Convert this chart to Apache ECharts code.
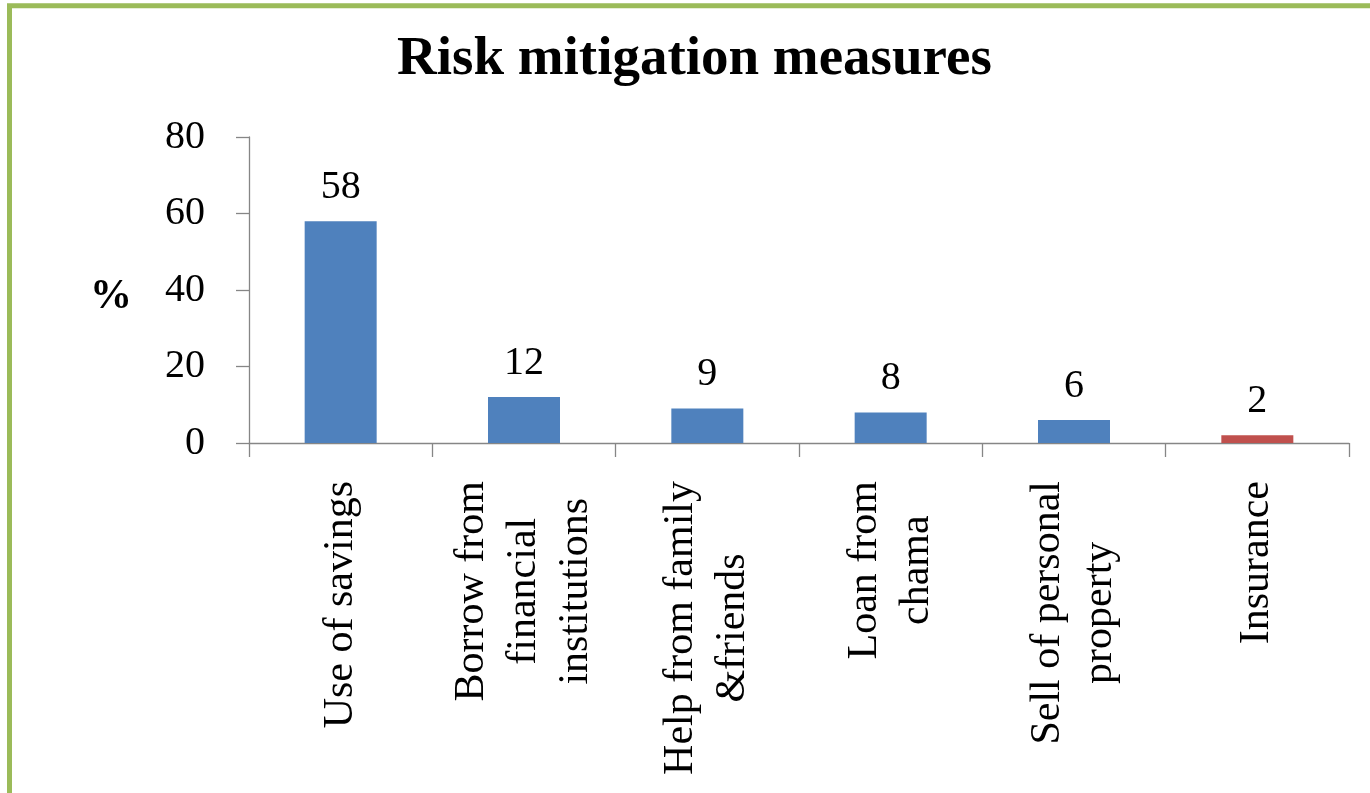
<!DOCTYPE html>
<html>
<head>
<meta charset="utf-8">
<title>Risk mitigation measures</title>
<script src="https://cdn.jsdelivr.net/npm/echarts@6/dist/echarts.min.js"></script>
<style>
  html, body { margin: 0; padding: 0; background: #ffffff; }
  #chart { width: 1370px; height: 793px; }
</style>
</head>
<body>
<div id="chart"></div>
<script>
// Share of respondents (%) using each risk mitigation measure
const categories = [
  'Use of savings',
  'Borrow from\nfinancial\ninstitutions',
  'Help from family\n&friends',
  'Loan from\nchama',
  'Sell of personal\nproperty',
  'Insurance'
];
const values = [58, 12, 9, 8, 6, 2];
const yTicks = [0, 20, 40, 60, 80];

const SERIF = '"Liberation Serif", "Times New Roman", serif';
const BLUE = '#4F81BD';
const RED = '#C0504D';
const AXIS_GREY = '#868686';

const chart = echarts.init(document.getElementById('chart'));

chart.setOption({
  backgroundColor: '#ffffff',
  animation: false,
  title: {
    text: 'Risk mitigation measures',
    left: 392,
    top: 27,
    textStyle: { fontFamily: SERIF, fontWeight: 'bold', fontSize: 55, color: '#000' }
  },
  graphic: [
    {
      // outer frame
      type: 'rect',
      shape: { x: 9.5, y: 5.8, width: 1450, height: 900 },
      style: { fill: 'none', stroke: '#9BBB59', lineWidth: 5 },
      silent: true
    },
    {
      // value-axis unit
      type: 'text',
      x: 111,
      y: 297,
      style: {
        text: '%',
        fontFamily: SERIF,
        fontWeight: 'bold',
        fontSize: 42,
        fill: '#000',
        align: 'center',
        verticalAlign: 'middle'
      },
      silent: true
    }
  ],
  grid: { left: 249, right: 21, top: 137, bottom: 350 },
  xAxis: {
    type: 'category',
    data: categories,
    boundaryGap: true,
    axisLine: { lineStyle: { color: AXIS_GREY, width: 1.3 } },
    axisTick: { show: true, length: 14, alignWithLabel: false, lineStyle: { color: AXIS_GREY, width: 1.3 } },
    axisLabel: {
      interval: 0,
      rotate: 90,
      margin: 38,
      color: '#000',
      fontFamily: SERIF,
      fontSize: 42,
      lineHeight: 52,
      formatter: function (v) {
        return v.split('\n').map(function (l) { return '{c|' + l + '}'; }).join('\n');
      },
      rich: {
        c: { align: 'center', fontFamily: SERIF, fontSize: 42, lineHeight: 52, color: '#000' }
      }
    }
  },
  yAxis: {
    type: 'value',
    min: yTicks[0],
    max: yTicks[yTicks.length - 1],
    interval: yTicks[1] - yTicks[0],
    axisLine: { show: true, lineStyle: { color: AXIS_GREY, width: 1.3 } },
    axisTick: { show: true, length: 13, lineStyle: { color: AXIS_GREY, width: 1.3 } },
    splitLine: { show: false },
    axisLabel: { margin: 44, color: '#000', fontFamily: SERIF, fontSize: 40 }
  },
  series: [{
    type: 'bar',
    data: values,
    barWidth: 72,
    itemStyle: {
      color: function (p) { return p.name === 'Insurance' ? RED : BLUE; }
    },
    label: {
      show: true,
      position: 'top',
      distance: 14,
      color: '#000',
      fontFamily: SERIF,
      fontSize: 40
    }
  }]
});
</script>
</body>
</html>
